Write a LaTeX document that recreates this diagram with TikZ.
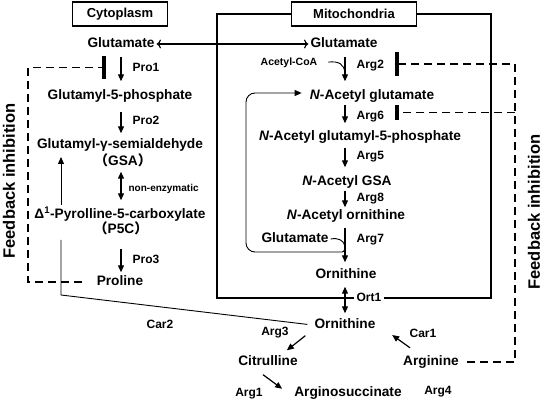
\documentclass[tikz,border=0pt]{standalone}
\usepackage{fontspec}
\setmainfont{Liberation Sans}
\newfontfamily\cjk{Noto Sans CJK SC}
\usetikzlibrary{arrows.meta,positioning}

\begin{document}
\begin{tikzpicture}[
    x=1pt, y=-1pt,
    every node/.style={font=\bfseries},
    metab/.style={inner sep=2pt, text height=10pt, text depth=3pt, font=\fontsize{13.7}{16}\selectfont\bfseries},
    enz/.style={inner sep=3pt, font=\fontsize{12}{14}\selectfont\bfseries},
    small/.style={inner sep=2pt, font=\fontsize{10.5}{12}\selectfont\bfseries},
    compbox/.style={draw, line width=1.3pt, fill=white, minimum height=24pt, font=\fontsize{13}{15}\selectfont\bfseries},
    rxn/.style={-{Triangle[length=7pt,width=6pt]}, line width=1.2pt},
    twoway/.style={{Triangle[length=7pt,width=6pt]}-{Triangle[length=7pt,width=6pt]}, line width=1.2pt},
    link/.style={line width=0.9pt},
    fbline/.style={dash pattern=on 8pt off 5pt, line width=1.3pt},
    fbtext/.style={rotate=90, inner sep=0pt, font=\fontsize{16.5}{18}\selectfont\bfseries}
]
\useasboundingbox (0,0) rectangle (542,404);

% Compartments
\draw[line width=1.8pt] (217,14) rectangle (491,298);
\node[compbox, minimum width=95pt] (cytolab) at (120,14) {Cytoplasm};
\node[compbox, minimum width=125pt] (mitolab) at (354,14) {Mitochondria};

% Cytoplasm: proline pathway
\coordinate (ccol) at (121,0);
\node[metab] (gluc) at (121,44) {Glutamate};
\node[metab] (g5p) at (120,96) {Glutamyl-5-phosphate};
\node[metab] (gsa) at (120,145) {Glutamyl-γ-semialdehyde};
\node[metab] (gsax) at (123,162) {{\cjk （}GSA{\cjk ）}};
\node[metab] (p5c) at (120,215) {Δ\textsuperscript{1}-Pyrolline-5-carboxylate};
\node[metab] (p5cx) at (121,230) {{\cjk （}P5C{\cjk ）}};
\node[metab] (pro) at (120,282) {Proline};

\draw[rxn, shorten <=4pt, shorten >=6pt] (gluc.south -| ccol) -- node[enz, right=8pt, pos=0.42] {Pro1} (g5p.north -| ccol);
\draw[rxn, shorten <=7pt, shorten >=3pt] (g5p.south -| ccol) -- node[enz, right=8pt] {Pro2} (gsa.north -| ccol);
\draw[twoway, shorten <=1pt, shorten >=6pt] (gsax.south -| ccol) -- node[small, right=5pt, font=\fontsize{10}{12}\selectfont\bfseries] {non-enzymatic} (p5c.north -| ccol);
\draw[rxn, shorten <=10pt, shorten >=1pt] (p5cx.south -| ccol) -- node[enz, right=8pt, pos=0.6] {Pro3} (pro.north -| ccol);

% Mitochondria: arginine pathway
\coordinate (mcol) at (345,0);
\node[metab] (glum) at (344,44) {Glutamate};
\node[small] (acoa) at (289,63) {Acetyl-CoA};
\node[metab] (nacglu) at (372,96) {\textit{N}-Acetyl glutamate};
\node[metab] (nacg5p) at (360,137) {\textit{N}-Acetyl glutamyl-5-phosphate};
\node[metab] (nacgsa) at (347,182) {\textit{N}-Acetyl GSA};
\node[metab] (nacorn) at (346,216) {\textit{N}-Acetyl ornithine};
\node[metab] (glui) at (295,239) {Glutamate};
\node[metab] (ornm) at (346,275) {Ornithine};

\draw[rxn, shorten <=4pt, shorten >=6pt] (glum.south -| mcol) -- node[enz, right=8pt, pos=0.38] {Arg2} (nacglu.north -| mcol);
\draw[link, shorten <=9pt] (acoa.east) .. controls (339,61) and (344,64) .. (345,73);
\draw[rxn, shorten >=5pt] (nacglu.south -| mcol) -- node[enz, right=8pt] {Arg6} (nacg5p.north -| mcol);
\draw[rxn, shorten <=2pt, shorten >=6pt] (nacg5p.south -| mcol) -- node[enz, right=8pt, pos=0.4] {Arg5} (nacgsa.north -| mcol);
\draw[rxn] (nacgsa.south -| mcol) -- node[enz, right=8pt] {Arg8} (nacorn.north -| mcol);
\draw[rxn, shorten <=3pt, shorten >=4pt] (nacorn.south -| mcol) -- node[enz, right=8pt, pos=0.35] {Arg7} (ornm.north -| mcol);
\draw[rxn, line width=0.9pt, rounded corners=9pt] (glui.east) .. controls (347,236) and (347,252) .. (333,252) -- (246,252) |- ([yshift=3pt, xshift=-6pt]nacglu.west);

\draw[twoway, <->] (gluc.east) -- (glum.west);

% Urea cycle side
\node[metab] (ornc) at (345,325) {Ornithine};
\node[metab] (cit) at (268,362) {Citrulline};
\node[metab] (asuc) at (348,393) {Arginosuccinate};
\node[metab] (argn) at (431,362) {Arginine};

\draw[twoway, shorten <=3pt, shorten >=3pt] (ornm.south -| mcol) -- node[enz, right=8pt, pos=0.41, fill=white] {Ort1} (ornc.north -| mcol);
\draw[rxn] ([shift={(-7,2)}]ornc.south west) -- ([shift={(-13,-3)}]cit.north east);
\draw[rxn] ([shift={(-5,4)}]cit.south) -- ([shift={(-10,4.5)}]asuc.north west);
\draw[rxn] ([shift={(9,-5.5)}]argn.north west) -- ([shift={(14.5,10)}]ornc.east);
\node[enz] (arg3) at (275,333) {Arg3};
\node[enz] (arg1) at (249,394) {Arg1};
\node[enz] (arg4) at (438,392) {Arg4};
\node[enz] (car1) at (423,333) {Car1};

% Ornithine to P5C
\coordinate (c2a) at (61,295);
\coordinate (c2b) at (61,240);
\coordinate (c2c) at (61,205);
\coordinate (c2d) at (61,157);
\draw[link, shorten <=5pt] (ornc.west) -- (c2a) -- (c2b);
\draw[link, -{Triangle[length=7pt,width=6pt]}] (c2c) -- (c2d);
\node[enz] (car2) at (160,324) {Car2};

% Feedback inhibition
\coordinate (fbl) at (28,67.5);
\coordinate (bar1) at (106,67.5);
\coordinate (fbr) at (515,64);
\coordinate (bar2) at (395,64);
\coordinate (bar3) at (395,112.5);
\draw[fbline, shorten <=13pt, -{Bar[width=23pt, line width=4pt]}] (pro.west) -| (fbl) |- (bar1);
\draw[fbline, shorten <=6pt, -{Bar[width=24pt, line width=4pt]}] (argn.east) -| (fbr) |- (bar2);
\draw[fbline, -{Bar[width=15pt, line width=4pt]}] (fbr |- bar3) -- (bar3);
\node[fbtext] (fbleft) at (9,181) {Feedback inhibition};
\node[fbtext] (fbright) at (534,212) {Feedback inhibition};

\end{tikzpicture}
\end{document}
